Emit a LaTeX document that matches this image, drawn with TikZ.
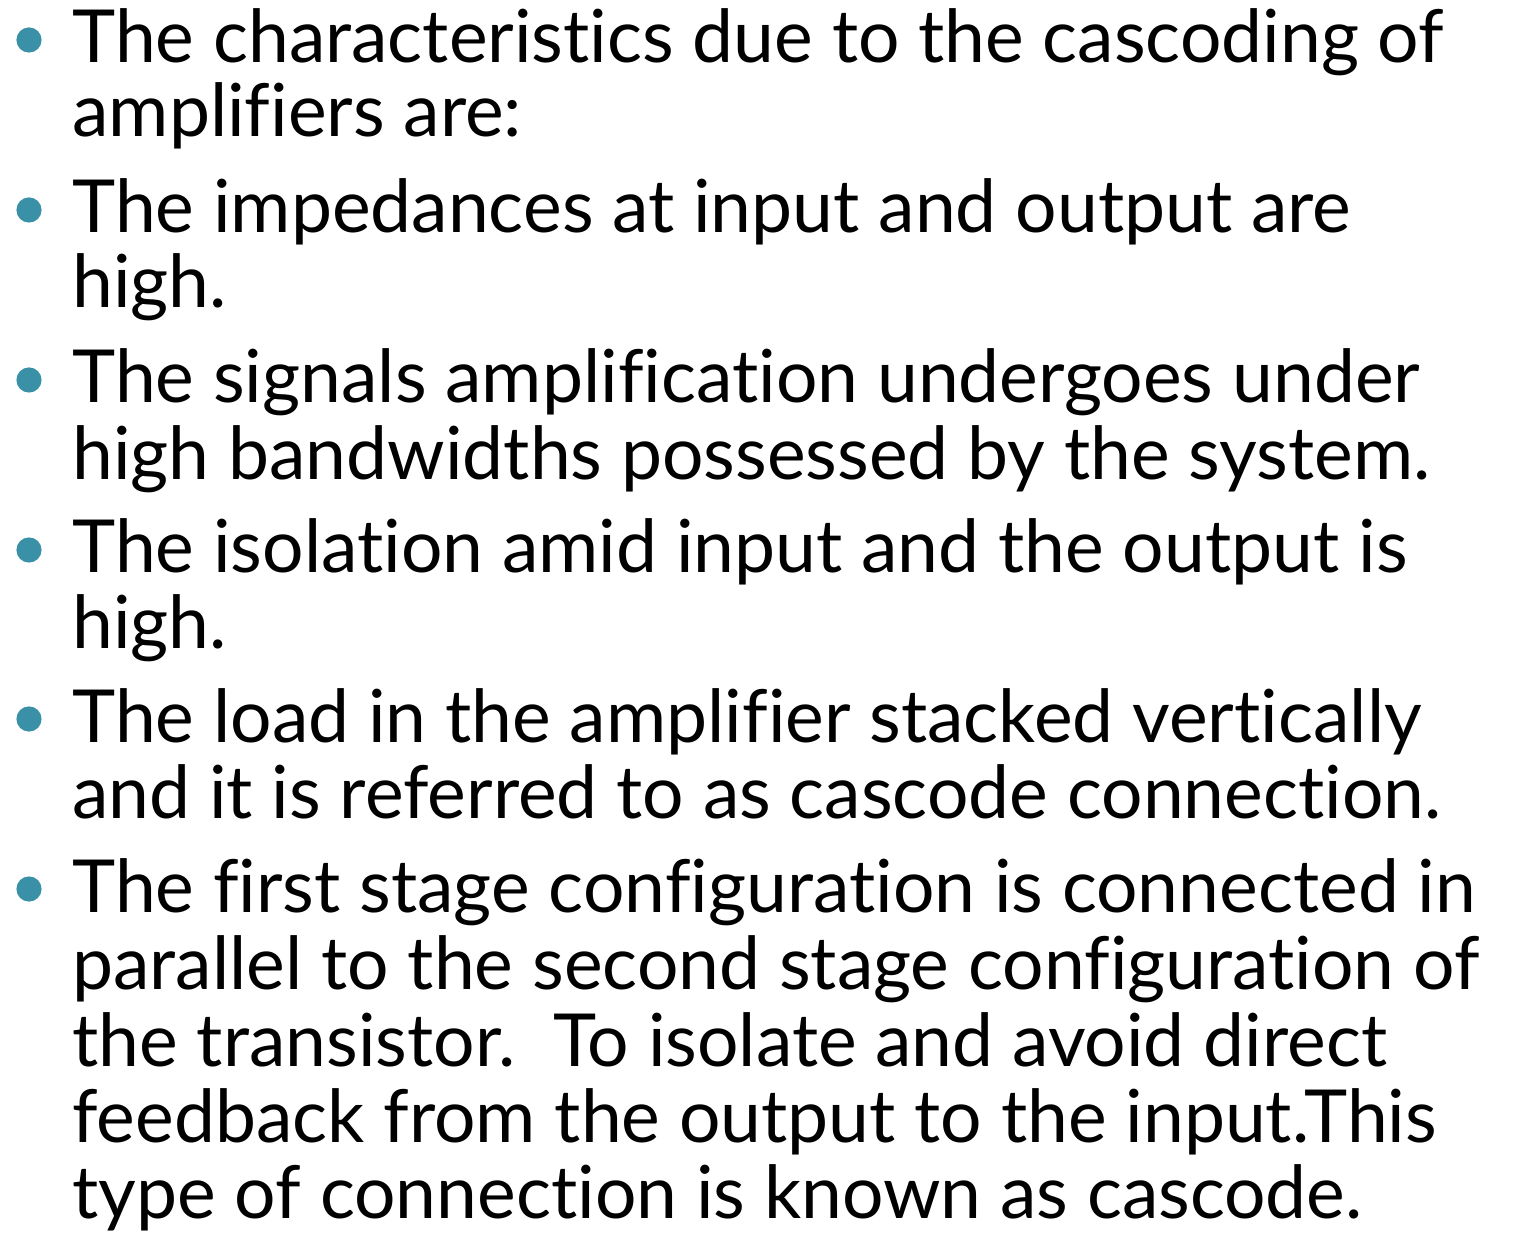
\documentclass[tikz,border=0pt]{standalone}
\usepackage{fontspec}
\setmainfont{Lato}[Ligatures = NoCommon]
\usepackage{tikz}

\definecolor{bulletteal}{HTML}{3A91A7}

\begin{document}
\begin{tikzpicture}[x = .5pt, y = -.5pt,
    txt/.style = {anchor = base west, inner sep = 0pt, font = \fontsize{36.6pt}{44pt}\selectfont},
    dot/.style = {circle, fill = bulletteal, inner sep = 0pt, minimum size = 12.6pt}]
        \useasboundingbox (0,0) rectangle (1516,1235);
        \node[dot] (b1) at (29,40) {};
        \node[txt] (l1) at (72,63) {The characteristics due to the cascoding of};
        \node[txt] (l2) at (72,137) {amplifiers are:};
        \node[dot] (b2) at (29,210) {};
        \node[txt] (l3) at (72,233) {The impedances at input and output are};
        \node[txt] (l4) at (72,308) {high.};
        \node[dot] (b3) at (29,380) {};
        \node[txt] (l5) at (72,403) {The signals amplification undergoes under};
        \node[txt] (l6) at (72,480) {high bandwidths possessed by the system.};
        \node[dot] (b4) at (29,550) {};
        \node[txt] (l7) at (72,573) {The isolation amid input and the output is};
        \node[txt] (l8) at (72,648) {high.};
        \node[dot] (b5) at (29,719) {};
        \node[txt] (l9) at (72,742) {The load in the amplifier stacked vertically};
        \node[txt] (l10) at (72,818) {and it is referred to as cascode connection.};
        \node[dot] (b6) at (29,889) {};
        \node[txt] (l11) at (72,912) {The first stage configuration is connected in};
        \node[txt] (l12) at (72,989) {parallel to the second stage configuration of};
        \node[txt] (l13) at (72,1066) {the transistor.\ \ To isolate and avoid direct};
        \node[txt] (l14) at (72,1142) {feedback from the output to the input.This};
        \node[txt] (l15) at (72,1218) {type of connection is known as cascode.};
      \end{tikzpicture}
\end{document}
